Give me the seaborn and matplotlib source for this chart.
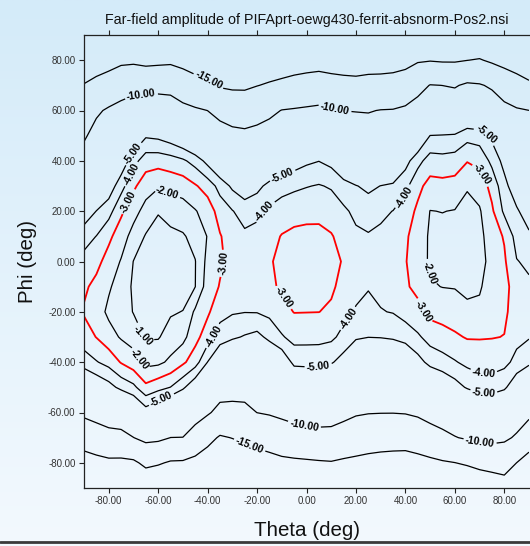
import numpy as np
import matplotlib
matplotlib.use("Agg")
import matplotlib.pyplot as plt
import seaborn as sns
from matplotlib.ticker import FormatStrFormatter
from matplotlib.colors import LinearSegmentedColormap

# far-field amplitude (dB) on a 5 x 10 deg grid
theta = list(range(-90, 91, 5))
phi = [90, 80, 70, 60, 50, 40, 30, 20, 10, 0, -10, -20, -30, -40, -50, -60, -70, -80, -90]

# one list per theta value, running over phi from 90 down to -90
amplitude_by_theta = [
    [-21, -17.9, -14.8, -12.6, -10.4, -8.7, -7.2, -5.7, -4.41, -3.68, -3.17, -2.9, -3.47, -4.48, -6.6, -9.2, -13, -16.8, -20],
    [-20.5, -17.2, -13.8, -10.5, -8.9, -7.6, -6.3, -4.98, -3.98, -3.29, -2.72, -2.45, -2.97, -4.07, -5.92, -8.55, -12.1, -16.3, -19.5],
    [-20, -16.7, -12.8, -9.55, -8.25, -6.95, -5.65, -4.38, -3.22, -2.61, -2.12, -1.8, -2.39, -3.65, -5.4, -8.0, -11.3, -15.85, -19],
    [-19.5, -15.9, -11.6, -8.97, -7.38, -5.79, -4.38, -3.18, -2.48, -1.93, -1.58, -1.57, -1.9, -2.93, -4.71, -7.53, -11.2, -15.9, -19],
    [-19.5, -15.75, -11.15, -8.3, -6.1, -4.38, -3.19, -2.37, -1.62, -0.98, -0.85, -0.95, -1.61, -2.43, -4.25, -6.6, -10.05, -15.7, -19],
    [-19.5, -16.2, -11.2, -7.84, -5.14, -3.45, -2.44, -1.64, -0.92, -0.66, -0.4, -0.65, -0.9, -1.71, -3.25, -5.52, -8.97, -14.1, -18.5],
    [-19.5, -16.0, -11.1, -7.9, -5.26, -3.4, -2.11, -1.06, -0.66, -0.3, -0.3, -0.5, -0.92, -1.78, -3.67, -6.07, -9.2, -14.6, -19],
    [-19.5, -15.8, -11.2, -8.13, -5.63, -3.55, -2.3, -1.36, -0.78, -0.4, -0.5, -0.89, -1.43, -2.2, -4.02, -6.97, -10.02, -15.4, -19],
    [-19.5, -16.3, -12.5, -8.9, -6.2, -3.83, -2.44, -1.56, -0.9, -0.5, -0.5, -1.03, -1.7, -2.82, -4.8, -7.4, -10.05, -15.5, -19],
    [-20, -17, -13.5, -9.5, -7, -4.39, -2.9, -1.93, -1.31, -0.97, -0.99, -2.18, -2.68, -3.54, -5.88, -8.38, -11.75, -16.2, -19.5],
    [-20, -17.2, -14.2, -10.02, -7.67, -5.35, -3.42, -2.45, -2.05, -2.3, -2.5, -2.84, -3.52, -5.02, -7.27, -9.55, -13.8, -17.1, -20],
    [-21, -18.2, -15.4, -11.1, -8.44, -6.35, -4.36, -3.43, -2.93, -2.85, -3.06, -3.65, -4.47, -6.2, -8.37, -11.1, -15.4, -18.2, -21],
    [-21, -18.3, -15.7, -11.9, -8.96, -7.1, -5.2, -3.95, -3.5, -3.3, -3.5, -3.9, -4.83, -6.67, -8.63, -11.1, -14.9, -18, -21],
    [-21, -18.3, -15.7, -12.1, -9.2, -7.43, -5.66, -4.44, -3.8, -3.4, -3.69, -3.97, -5.09, -6.89, -8.69, -10.9, -14.3, -17.4, -20.5],
    [-20.5, -17.8, -15.1, -11.5, -8.9, -7.1, -5.3, -4.26, -3.65, -3.45, -3.6, -3.95, -5.31, -6.86, -8.4, -9.97, -13.55, -16.9, -20],
    [-20.5, -17.6, -14.6, -10.8, -8.4, -6.4, -4.68, -3.82, -3.32, -3.08, -3.2, -3.75, -4.73, -6.33, -8.0, -9.67, -12.9, -16.5, -20],
    [-20.5, -17.4, -14.1, -9.9, -7.9, -5.87, -4.38, -3.51, -2.95, -2.8, -2.85, -3.31, -4.1, -5.92, -7.58, -9.25, -12.1, -16, -20],
    [-20.5, -17.2, -13.5, -9.69, -7.6, -5.52, -4.21, -3.3, -2.82, -2.55, -2.76, -2.97, -3.67, -4.7, -6.6, -8.72, -11.7, -15.75, -19.5],
    [-20.5, -16.95, -13.1, -9.47, -7.34, -5.2, -4.05, -3.23, -2.79, -2.5, -2.74, -2.98, -3.69, -4.67, -6.46, -8.54, -11.3, -15.6, -19.5],
    [-20.5, -16.8, -12.75, -9.26, -7.13, -5.02, -3.93, -3.2, -2.81, -2.55, -2.77, -2.99, -3.71, -4.67, -6.43, -8.47, -11.1, -15.4, -19.5],
    [-20.5, -16.95, -13.3, -9.67, -7.5, -5.33, -4.1, -3.44, -2.93, -2.7, -2.87, -3.13, -3.8, -4.88, -6.7, -8.6, -11.1, -15.25, -19.5],
    [-20.5, -17.1, -13.6, -10.02, -8.08, -6.15, -4.6, -3.81, -3.34, -3.08, -3.25, -3.69, -4.29, -5.45, -7.23, -9.0, -11.8, -15.65, -19.5],
    [-20.5, -17.2, -13.75, -10.1, -8.39, -6.7, -4.95, -4.25, -3.8, -3.5, -3.76, -4.08, -4.85, -6.3, -7.95, -9.6, -12.5, -15.9, -19.5],
    [-20.5, -16.95, -13.5, -10.17, -8.47, -6.85, -5.24, -4.43, -3.92, -3.7, -3.92, -4.39, -4.98, -6.61, -8.23, -9.84, -12.9, -16.2, -19.5],
    [-20.5, -16.95, -13.4, -9.9, -8.28, -6.64, -4.98, -4.2, -3.8, -3.5, -3.76, -4.05, -4.95, -6.58, -8.24, -9.9, -13.15, -16.4, -19.5],
    [-20.5, -16.8, -13.2, -9.83, -8.1, -6.38, -4.83, -3.98, -3.64, -3.3, -3.63, -3.95, -4.85, -6.47, -8.19, -9.91, -13.3, -16.5, -19.5],
    [-20.5, -16.4, -12.6, -9.4, -7.4, -5.4, -4.27, -3.5, -3.15, -3.05, -3.1, -3.6, -4.6, -6.2, -8.0, -9.8, -13.3, -16.6, -19.5],
    [-19.5, -15.4, -11.25, -8.48, -6.3, -4.33, -3.27, -2.81, -2.54, -2.53, -2.8, -3.23, -4.16, -5.4, -7.4, -9.4, -12.7, -16.3, -19.5],
    [-19.5, -15.2, -9.88, -7.44, -4.98, -3.55, -2.65, -1.98, -1.86, -1.85, -2.09, -2.72, -3.61, -4.68, -6.5, -8.7, -11.7, -15.9, -19.5],
    [-19.5, -15.4, -10.02, -7.44, -4.93, -3.65, -2.69, -2.02, -1.73, -1.73, -1.98, -2.61, -3.37, -4.4, -6.0, -8.22, -10.9, -15.4, -19],
    [-19.5, -15.4, -10.3, -7.43, -4.86, -3.55, -2.62, -1.96, -1.65, -1.65, -1.95, -2.5, -3.14, -4.08, -5.46, -7.76, -10.15, -15.05, -19],
    [-19.5, -15.05, -9.43, -6.57, -4.36, -3.05, -2.11, -1.62, -1.53, -1.53, -1.8, -2.2, -2.93, -3.75, -4.88, -7.2, -9.63, -14.5, -19],
    [-19, -14.74, -9.7, -6.76, -4.47, -3.3, -2.41, -1.9, -1.7, -1.69, -1.88, -2.24, -2.93, -3.62, -4.5, -6.68, -9.25, -13.7, -18.5],
    [-19.5, -15.6, -10.5, -7.75, -5.25, -4.25, -3.33, -2.83, -2.56, -2.3, -2.52, -2.74, -2.96, -3.58, -4.5, -6.5, -9, -13.2, -18],
    [-20, -16.4, -12, -8.93, -7.14, -5.36, -4.64, -4.2, -3.08, -2.86, -2.7, -2.85, -3.02, -3.73, -4.79, -6.97, -9.34, -13.1, -17],
    [-20.5, -17.1, -13.2, -9.62, -8.33, -7.05, -5.77, -4.83, -4.39, -3.95, -3.45, -3.38, -3.73, -4.29, -5.87, -8.04, -10.45, -15.02, -18.5],
    [-21, -17.8, -14.3, -9.98, -8.9, -7.82, -6.75, -5.67, -4.78, -4.2, -3.82, -3.64, -3.93, -4.77, -6.63, -8.99, -12.7, -16.7, -20],
]

levels = [-15, -10, -5, -4, -3, -2, -1]
level_colors = ["black", "black", "black", "black", "red", "black", "black"]
level_widths = [0.9, 0.9, 0.9, 0.9, 1.3, 0.9, 0.9]

# where the contour labels sit (theta, phi)
label_spots = [
    (-40, 71.5), (-23, -73),
    (-67, 67.7), (11.5, 60.6), (-1.3, -67), (70, -73),
    (-71.4, 43.6), (-10, 35), (73.4, 51.6), (-58.3, -55.7), (4.8, -43.1), (71.6, -53.7),
    (-71.4, 35), (-17.5, 20.5), (39.2, 25.8), (-37.4, -29.9), (17.6, -23.2), (71.6, -45.8),
    (-72, 23.8), (-32.5, -1), (-10.7, -15.3), (71.6, 35), (46.6, -19.9),
    (-56.5, 27.1), (-68, -39.1), (48, -4.7),
    (-67.3, -29.9),
]

sns.set_style("ticks")
plt.rcParams["font.family"] = ["Liberation Sans", "DejaVu Sans"]

fig = plt.figure(figsize=(5.3, 5.46), dpi=100)

# light blue gradient behind everything
bg = fig.add_axes([0, 0, 1, 1], zorder=-10)
grad = LinearSegmentedColormap.from_list("bg", ["#d4ebf9", "#f3f9fe"])
bg.imshow(np.linspace(0, 1, 256).reshape(-1, 1), aspect="auto", cmap=grad,
          extent=[0, 1, 0, 1])
bg.set_axis_off()
fig.add_artist(plt.Line2D([0, 1], [1 - 542 / 546, 1 - 542 / 546],
                          color="#3a3a3a", lw=2, transform=fig.transFigure))

ax = fig.add_axes([84 / 530, 1 - 488 / 546, 445 / 530, 453 / 546])
ax.patch.set_alpha(0)

z = np.flipud(np.array(amplitude_by_theta).T)
cs = ax.contour(theta, phi[::-1], z, levels=levels, colors=level_colors,
                linewidths=level_widths)
labels = ax.clabel(cs, fmt="%.2f", manual=label_spots, fontsize=7.5,
                   inline=True, inline_spacing=2, colors="black")
for t in labels:
    t.set_fontweight("bold")

ax.set_xlim(-90, 90)
ax.set_ylim(-90, 90)
ax.set_xticks(range(-80, 81, 20))
ax.set_yticks(range(-80, 81, 20))
ax.xaxis.set_major_formatter(FormatStrFormatter("%.2f"))
ax.yaxis.set_major_formatter(FormatStrFormatter("%.2f"))
ax.tick_params(axis="both", direction="out", length=3.6, width=0.8,
               labelsize=7, labelcolor="#333333", color="#222222", pad=2.5)
ax.tick_params(axis="x", top=True)
ax.spines["right"].set_visible(False)
for s in ["left", "top", "bottom"]:
    ax.spines[s].set_color("#222222")
    ax.spines[s].set_linewidth(0.9)

ax.set_title("Far-field amplitude of PIFAprt-oewg430-ferrit-absnorm-Pos2.nsi",
             fontsize=10.3, color="#111111", pad=8)
ax.set_xlabel("Theta (deg)", fontsize=14.8, color="#111111")
ax.set_ylabel("Phi (deg)", fontsize=14.8, color="#111111")
ax.xaxis.set_label_coords(0.5, -0.073)
ax.yaxis.set_label_coords(-0.105, 0.5)

fig.savefig("out.png", dpi=100)
